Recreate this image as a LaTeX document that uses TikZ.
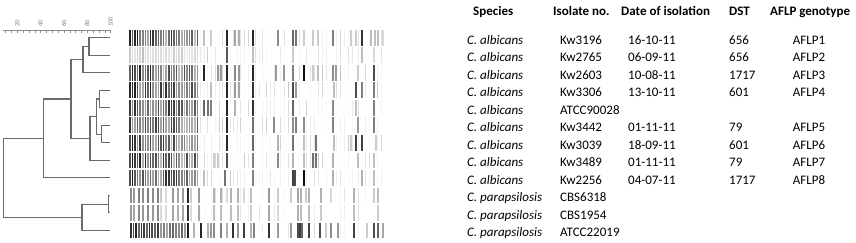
\documentclass[tikz,border=0pt]{standalone}
\usepackage{fontspec}
\setmainfont{Carlito}
\tikzset{
  branch/.style={draw=black!58, line width=1.1pt},
  scaleline/.style={draw=black!45, line width=0.5pt},
  scalelabel/.style={font=\fontsize{6.5}{6.5}\selectfont, text=black!50,
                     rotate=90, anchor=west, inner sep=0pt},
  headcell/.style={font=\fontsize{13}{15}\selectfont\bfseries,
                   anchor=base west, inner sep=0pt},
  cell/.style={font=\fontsize{13}{15}\selectfont, anchor=base west, inner sep=0pt},
  speciescell/.style={cell, font=\fontsize{13}{15}\selectfont\itshape},
}
% one lane of the gel: #1 top, #2 darkness of the dense part, #3 extra bands x/shade
\newcommand\albicanslane[3]{%
  \foreach \bx in {129,131.6,...,197} {
    \pgfmathtruncatemacro\bs{#2*(0.3+0.7*rnd)*(1-(\bx-129)/260)}
    \fill[black!\bs] (\bx,#1) rectangle ++(1.5,15.6);
  }
  \foreach \bx in {200,204,207,211,215,219,222,230,233,237,240,244,248,255,259,262,
                   266,270,274,280,284,288,299,306,310,314,318,322,326,336,340,344,
                   348,352,358,365,369,377,381} {
    \pgfmathtruncatemacro\bs{24*rnd*rnd}
    \fill[black!\bs] (\bx,#1) rectangle ++(1.2,15.6);
  }
  \foreach \bx/\bs in {#3} {
    \fill[black!\bs] (\bx,#1) rectangle ++(1.6,15.6);
  }
}
\newcommand\parapsilosislane[2]{%
  \foreach \bx in {200,204,211,215,222,230,240,248,259,262,274,284,288,314,326,340,344,358,365} {
    \pgfmathtruncatemacro\bs{18*rnd*rnd}
    \fill[black!\bs] (\bx,#1) rectangle ++(1.2,15.6);
  }
  \foreach \bx/\bs in {#2} {
    \fill[black!\bs] (\bx,#1) rectangle ++(1.6,15.6);
  }
}

\begin{document}
\begin{tikzpicture}[x=1pt, y=-1pt]
\useasboundingbox (0,0) rectangle (856,243);
\pgfmathsetseed{4217}

% similarity scale
\draw[scaleline] (3,30.7) -- (110.7,30.7);
\foreach \t in {0,...,18}
  \draw[scaleline] ({5.67+5.833*\t},30.7) -- ++(0,2);
\foreach \v [count=\i from 0] in {20,40,60,80,100}
  \node[scalelabel] (scale\v) at ({17.3+23.33*\i},27) {\v};

% dendrogram
\foreach \k in {1,...,12}
  \coordinate (leaf\k) at (110,{37.8+17.5*(\k-1)});
\coordinate (n12)    at (89,46.55);
\coordinate (n123)   at (83,59.675);
\coordinate (n45)    at (99.5,99.05);
\coordinate (n67)    at (101.7,134.05);
\coordinate (n4567)  at (96.7,116.55);
\coordinate (n4to8)  at (90,138.425);
\coordinate (n1to8)  at (71,99.05);
\coordinate (n1to9)  at (43.3,138.425);
\coordinate (n1011)  at (108.3,204.05);
\coordinate (n10to12) at (82,217.175);
\coordinate (root)   at (3.3,177.8);
\foreach \p/\c in {n12/leaf1, n12/leaf2, n123/n12, n123/leaf3,
                   n45/leaf4, n45/leaf5, n67/leaf6, n67/leaf7,
                   n4567/n45, n4567/n67, n4to8/n4567, n4to8/leaf8,
                   n1to8/n123, n1to8/n4to8, n1to9/n1to8, n1to9/leaf9,
                   n1011/leaf10, n1011/leaf11, n10to12/n1011, n10to12/leaf12,
                   root/n1to9, root/n10to12}
  \draw[branch] (\p) |- (\c);

% gel lanes
\albicanslane{30}{95}{203/25, 210/20, 226/85, 234/35, 238/30, 252/85, 277/45, 292/60,
  295/55, 303/20, 312/20, 317/20, 332/50, 350/20, 355/20, 361/80, 370/25, 374/25, 377/25, 382/15}
\albicanslane{47.5}{28}{226/65, 252/25, 292/20, 361/25, 373/15}
\albicanslane{65}{95}{203/85, 217/40, 220/40, 226/85, 234/45, 238/40, 252/85, 275/40, 283/40,
  292/50, 303/95, 312/20, 317/25, 332/45, 335/40, 357/20, 373/70}
\albicanslane{82.5}{95}{210/25, 226/85, 234/40, 238/35, 252/80, 292/70, 295/40, 333/25,
  355/70, 361/50, 373/50}
\albicanslane{100}{95}{203/60, 207/55, 210/50, 226/85, 234/30, 252/80, 292/60, 332/45,
  355/25, 373/50}
\albicanslane{117.5}{92}{226/85, 252/55, 273/45, 292/45, 295/50, 303/45, 332/50, 357/40, 373/50}
\albicanslane{135}{92}{226/85, 252/60, 277/30, 292/55, 303/25, 315/55, 333/25, 350/20,
  355/75, 361/75, 375/20}
\albicanslane{152.5}{95}{213/20, 217/20, 226/70, 252/50, 277/45, 292/30, 303/25, 312/55,
  315/55, 332/30, 357/25, 373/25}
\albicanslane{170}{95}{203/25, 224/55, 252/50, 292/75, 294/70, 303/95, 332/30, 361/30, 373/25}
\parapsilosislane{187.5}{130/45, 133/40, 138/50, 142/45, 147/50, 152/45, 157/50, 160/20,
  165/15, 172/40, 177/35, 182/40, 187/85, 190/20, 198/40, 213/30, 220/30, 226/15, 230/30,
  237/30, 243/15, 250/25, 268/40, 277/20, 290/20, 297/35, 300/30, 305/20, 308/30, 320/30,
  330/15, 353/30, 373/20, 377/25}
\parapsilosislane{205}{130/40, 133/35, 138/45, 142/40, 147/45, 152/40, 157/45, 160/15,
  165/15, 172/35, 177/30, 182/35, 187/80, 190/15, 198/35, 213/25, 220/25, 230/25, 237/25,
  250/20, 268/35, 277/15, 297/30, 300/25, 308/25, 320/20, 353/25, 377/20}
\parapsilosislane{222.5}{130/80, 132.6/70, 135.2/85, 138/60, 140.6/80, 143.2/75, 146/60,
  148.6/85, 151.2/70, 154/60, 157/75, 160/40, 163/50, 166/35, 169/55, 172/60, 175/50,
  178/45, 181/60, 184/40, 187/90, 193/30, 200/85, 207/30, 210/40, 213/45, 220/50, 226/30,
  232/80, 237/40, 243/75, 250/30, 253/50, 268/80, 277/40, 290/40, 297/70, 299/75, 301/60,
  308/75, 319/70, 325/20, 330/45, 337/40, 353/75, 366/20, 373/70, 377/60, 382/35}

% table
\node[headcell] (hspecies) at (473,16) {Species};
\node[headcell] (hisolate) at (553,16) {Isolate no.};
\node[headcell] (hdate)    at (621,16) {Date of isolation};
\node[headcell] (hdst)     at (729,16) {DST};
\node[headcell] (haflp)    at (770,16) {AFLP genotype};
\foreach \i/\iso/\date/\dst/\aflp in {1/Kw3196/16-10-11/656/AFLP1, 2/Kw2765/06-09-11/656/AFLP2,
    3/Kw2603/10-08-11/1717/AFLP3, 4/Kw3306/13-10-11/601/AFLP4, 6/Kw3442/01-11-11/79/AFLP5,
    7/Kw3039/18-09-11/601/AFLP6, 8/Kw3489/01-11-11/79/AFLP7, 9/Kw2256/04-07-11/1717/AFLP8} {
  \node[cell] (date\i) at (628,{44.3+17.5*(\i-1)}) {\date};
  \node[cell] (dst\i)  at (729,{44.3+17.5*(\i-1)}) {\dst};
  \node[cell, anchor=base] (aflp\i) at (809,{44.3+17.5*(\i-1)}) {\aflp};
}
\foreach \i/\sp/\iso in {1/albicans/Kw3196, 2/albicans/Kw2765, 3/albicans/Kw2603,
    4/albicans/Kw3306, 5/albicans/ATCC90028, 6/albicans/Kw3442, 7/albicans/Kw3039,
    8/albicans/Kw3489, 9/albicans/Kw2256, 10/parapsilosis/CBS6318,
    11/parapsilosis/CBS1954, 12/parapsilosis/ATCC22019} {
  \node[speciescell] (species\i) at (467,{44.3+17.5*(\i-1)}) {C. \sp};
  \node[cell] (isolate\i) at (560,{44.3+17.5*(\i-1)}) {\iso};
}
\end{tikzpicture}
\end{document}
